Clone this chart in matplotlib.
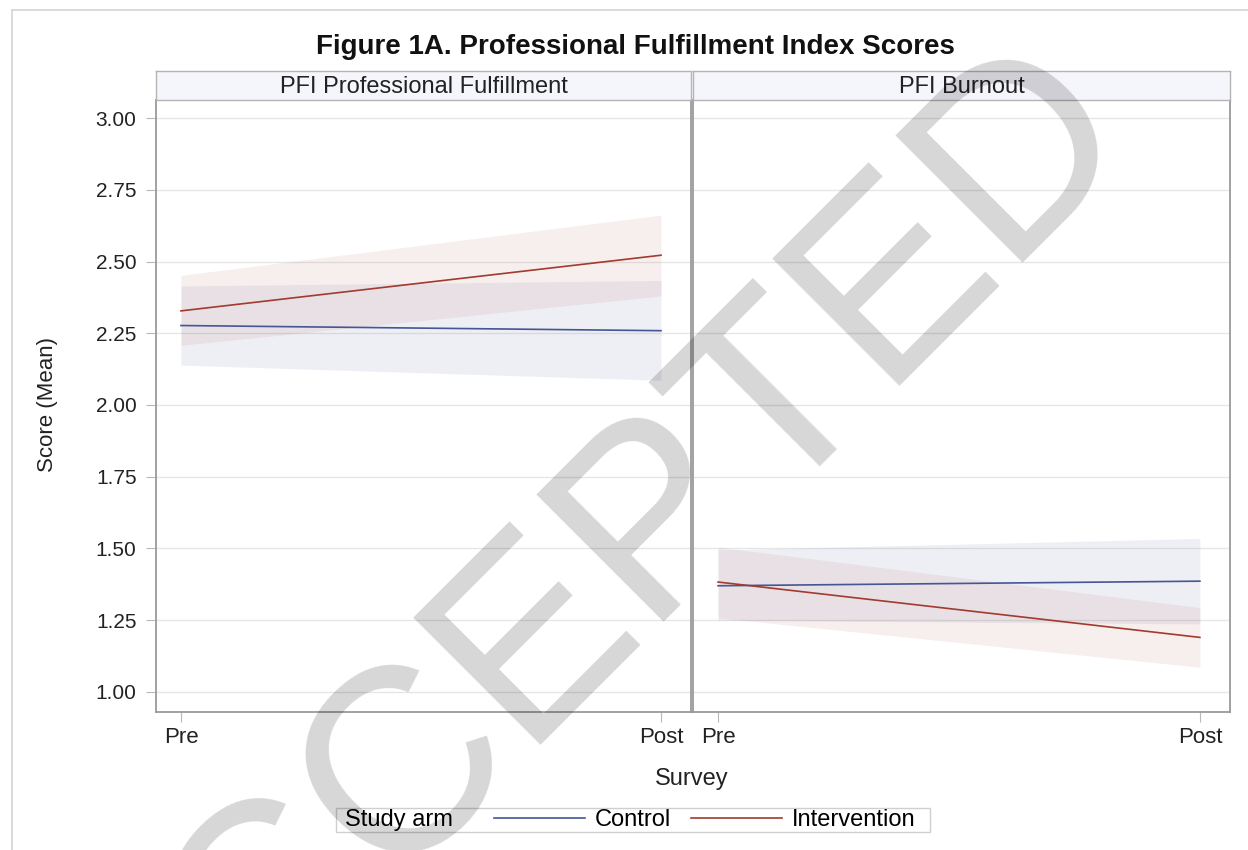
import matplotlib
matplotlib.use("Agg")
import matplotlib.pyplot as plt
import numpy as np
from matplotlib.lines import Line2D
from matplotlib.offsetbox import HPacker, DrawingArea

plt.rcParams['font.family'] = ['Liberation Sans', 'DejaVu Sans']

# ---------------- data ----------------
surveys = ["Pre", "Post"]
panels = ["PFI Professional Fulfillment", "PFI Burnout"]
arms = ["Control", "Intervention"]

# PFI Professional Fulfillment
pf_control_mean = [2.277, 2.259]
pf_control_lo = [2.139, 2.086]
pf_control_hi = [2.415, 2.434]
pf_interv_mean = [2.328, 2.522]
pf_interv_lo = [2.208, 2.380]
pf_interv_hi = [2.452, 2.662]

# PFI Burnout
bo_control_mean = [1.370, 1.386]
bo_control_lo = [1.250, 1.237]
bo_control_hi = [1.495, 1.535]
bo_interv_mean = [1.383, 1.190]
bo_interv_lo = [1.258, 1.086]
bo_interv_hi = [1.505, 1.294]

y_ticks = [1.00, 1.25, 1.50, 1.75, 2.00, 2.25, 2.50, 2.75, 3.00]

colors = {"Control": "#445694", "Intervention": "#A23A2E"}
band_alpha = {"Control": 0.09, "Intervention": 0.08}

W, H = 1248, 850
fig = plt.figure(figsize=(W / 100, H / 100), dpi=100)

def fx(px):
    return px / W

def fy(py):
    return 1 - py / H

# frame lines
fig.add_artist(Line2D([fx(12), fx(12)], [fy(10), 0], color="#D4D4D4", lw=1.2))
fig.add_artist(Line2D([fx(12), 1], [fy(10), fy(10)], color="#D4D4D4", lw=1.2))

panel_px = [(156, 691), (693, 1230)]
top_px, bot_px = 100, 712
strip_top = 71

data = [
    {"Control": (pf_control_mean, pf_control_lo, pf_control_hi),
     "Intervention": (pf_interv_mean, pf_interv_lo, pf_interv_hi)},
    {"Control": (bo_control_mean, bo_control_lo, bo_control_hi),
     "Intervention": (bo_interv_mean, bo_interv_lo, bo_interv_hi)},
]

xpos = np.arange(len(surveys))
handles = {}
for i, (x0, x1) in enumerate(panel_px):
    ax = fig.add_axes([fx(x0), fy(bot_px), fx(x1) - fx(x0), fy(top_px) - fy(bot_px)])
    for arm in arms:
        m, lo, hi = data[i][arm]
        ax.fill_between(xpos, lo, hi, color=colors[arm], alpha=band_alpha[arm], lw=0, zorder=1)
    for arm in arms:
        m, lo, hi = data[i][arm]
        ln, = ax.plot(xpos, m, color=colors[arm], lw=1.2, zorder=3)
        handles[arm] = ln
    ax.set_xlim(-0.052, 1.0625)
    ax.set_ylim(0.930, 3.063)
    ax.set_yticks(y_ticks)
    ax.set_xticks(xpos)
    ax.set_xticklabels(surveys, fontsize=16)
    ax.yaxis.grid(True, color="#E6E6E6", lw=1.0, zorder=0)
    ax.set_axisbelow(True)
    for s in ax.spines.values():
        s.set_color("#9A9A9A")
        s.set_linewidth(1.3)
    ax.tick_params(axis="x", length=7, color="#B8B8B8", pad=4, labelcolor="#222222")
    if i == 0:
        ax.set_yticklabels([f"{v:.2f}" for v in y_ticks], fontsize=15)
        ax.tick_params(axis="y", length=7, color="#B8B8B8", pad=7, labelcolor="#222222")
    else:
        ax.tick_params(axis="y", left=False, labelleft=False)

    # header strip
    sax = fig.add_axes([fx(x0), fy(top_px), fx(x1) - fx(x0), fy(strip_top) - fy(top_px)])
    sax.set_facecolor("#F5F5FC")
    sax.set_xticks([])
    sax.set_yticks([])
    for s in sax.spines.values():
        s.set_color("#B4B4B4")
        s.set_linewidth(1.0)
    sax.text(0.5, 0.45, panels[i], ha="center", va="center", fontsize=17,
             color="#222222", transform=sax.transAxes)

# titles / labels
fig.text(fx(635), fy(47), "Figure 1A. Professional Fulfillment Index Scores",
         ha="center", va="center", fontsize=20, fontweight="bold", color="#111111")
fig.text(fx(47), fy(405), "Score (Mean)", rotation=90, ha="center", va="center",
         fontsize=16, color="#222222")
fig.text(fx(692), fy(779), "Survey", ha="center", va="center", fontsize=17, color="#222222")

# legend with inline title
leg = fig.legend([handles["Control"], handles["Intervention"]], arms,
                 title="Study arm", title_fontsize=17, fontsize=17, ncol=2,
                 loc="center", bbox_to_anchor=(fx(633), fy(820)),
                 frameon=True, fancybox=False, edgecolor="#C4C4C4",
                 handlelength=3.85, handletextpad=0.42, columnspacing=0.85,
                 borderpad=0.1)
leg.get_frame().set_linewidth(1.0)
inner = HPacker(pad=0, sep=30, align="center",
                children=[leg._legend_title_box, leg._legend_handle_box])
new_box = HPacker(pad=1, sep=0, align="center",
                  children=[DrawingArea(5, 1), inner, DrawingArea(9, 1)])
new_box.set_figure(fig)
new_box.set_offset(leg._findoffset)
leg._legend_box = new_box

# watermark
fig.text(fx(639), fy(646), "ACCEPTED", rotation=45, rotation_mode="anchor",
         ha="center", va="baseline", fontsize=188, color="black", alpha=0.16,
         family="Liberation Sans", zorder=20)

fig.savefig("out.png", dpi=100, facecolor="white")
